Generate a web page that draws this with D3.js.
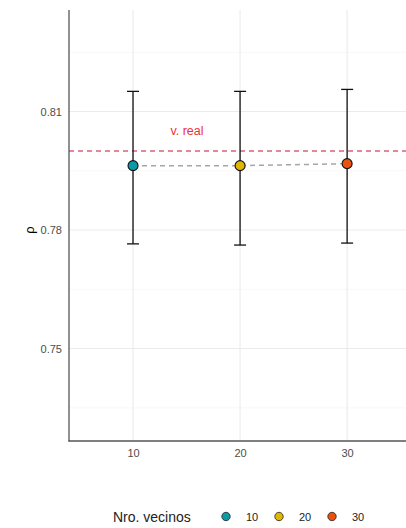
<!DOCTYPE html>
<html>
<head>
<meta charset="utf-8">
<script src="https://cdn.jsdelivr.net/npm/d3@7"></script>
<style>
body { margin:0; background:#fff; }
text { font-family: "Liberation Sans", Arial, sans-serif; }
</style>
</head>
<body>
<div id="chart"></div>
<script>
// data
var vecinos = [10, 20, 30];
var rho = [0.7963, 0.7963, 0.7968];
var rhoLow = [0.7765, 0.7762, 0.7767];
var rhoHigh = [0.8151, 0.8151, 0.8156];
var colores = ["#0c9aa6", "#e2b406", "#e8520f"];
var vReal = 0.80;
var yTicks = [0.75, 0.78, 0.81];
var yMinor = [0.735, 0.765, 0.795, 0.825];
var xTicks = [10, 20, 30];

var W = 406, H = 528;
var svg = d3.select("#chart").append("svg")
	.attr("width", W)
	.attr("height", H);

var x = d3.scaleLinear().domain([4.02, 35.5]).range([69, 406]);
var y = d3.scaleLinear().domain([0.7266, 0.8357]).range([441, 10]);

//grid lines
svg.selectAll("line.minor")
	.data(yMinor)
	.enter()
	.append("line")
	.attr("x1", 69).attr("x2", W)
	.attr("y1", function (d) { return y(d); })
	.attr("y2", function (d) { return y(d); })
	.attr("stroke", "#f2f2f2")
	.attr("stroke-width", 0.6);

svg.selectAll("line.major")
	.data(yTicks)
	.enter()
	.append("line")
	.attr("x1", 69).attr("x2", W)
	.attr("y1", function (d) { return y(d); })
	.attr("y2", function (d) { return y(d); })
	.attr("stroke", "#ebebeb")
	.attr("stroke-width", 1.1);

svg.selectAll("line.vgrid")
	.data(xTicks)
	.enter()
	.append("line")
	.attr("x1", function (d) { return x(d); })
	.attr("x2", function (d) { return x(d); })
	.attr("y1", 10).attr("y2", 441)
	.attr("stroke", "#ebebeb")
	.attr("stroke-width", 1.1);

// axes
var yAxis = d3.axisLeft(y).tickValues(yTicks).tickSize(0).tickPadding(7).tickFormat(d3.format(".2f"));
var gy = svg.append("g").attr("transform", "translate(69,0)").call(yAxis);
gy.select(".domain").remove();
gy.selectAll("text").attr("font-size", "11px").attr("fill", "#4d4d4d").attr("font-family", "Liberation Sans, Arial, sans-serif");

var xAxis = d3.axisBottom(x).tickValues(xTicks).tickSize(0).tickPadding(8);
var gx = svg.append("g").attr("transform", "translate(0,441)").call(xAxis);
gx.select(".domain").remove();
gx.selectAll("text").attr("font-size", "11px").attr("fill", "#4d4d4d").attr("font-family", "Liberation Sans, Arial, sans-serif");

svg.append("line")
	.attr("x1", 69).attr("x2", 69)
	.attr("y1", 10).attr("y2", 441.5)
	.attr("stroke", "#555").attr("stroke-width", 1.3);
svg.append("line")
	.attr("x1", 68.5).attr("x2", W)
	.attr("y1", 441).attr("y2", 441)
	.attr("stroke", "#555").attr("stroke-width", 1.3);

// reference value
svg.append("line")
	.attr("x1", 69).attr("x2", W)
	.attr("y1", y(vReal)).attr("y2", y(vReal))
	.attr("stroke", "#c8103c")
	.attr("stroke-width", 1.1)
	.attr("stroke-dasharray", "5,4");

svg.append("text")
	.text("v. real")
	.attr("x", 187).attr("y", y(vReal) - 16)
	.attr("text-anchor", "middle")
	.attr("font-size", "12.5px")
	.attr("fill", "#f0303a");

// dashed line joining the points
var line = d3.line()
	.x(function (d, i) { return x(vecinos[i]); })
	.y(function (d) { return y(d); });
svg.append("path")
	.datum(rho)
	.attr("d", line)
	.attr("fill", "none")
	.attr("stroke", "#a6a6a6")
	.attr("stroke-width", 1.5)
	.attr("stroke-dasharray", "5,4");

// error bars
var idx = d3.range(vecinos.length);
svg.selectAll("line.eb")
	.data(idx)
	.enter()
	.append("line")
	.attr("x1", function (i) { return x(vecinos[i]); })
	.attr("x2", function (i) { return x(vecinos[i]); })
	.attr("y1", function (i) { return y(rhoLow[i]); })
	.attr("y2", function (i) { return y(rhoHigh[i]); })
	.attr("stroke", "#111").attr("stroke-width", 1.3);

[rhoLow, rhoHigh].forEach(function (arr) {
	svg.selectAll(null)
		.data(idx)
		.enter()
		.append("line")
		.attr("x1", function (i) { return x(vecinos[i]) - 6; })
		.attr("x2", function (i) { return x(vecinos[i]) + 6; })
		.attr("y1", function (i) { return y(arr[i]); })
		.attr("y2", function (i) { return y(arr[i]); })
		.attr("stroke", "#111").attr("stroke-width", 1.3);
});

svg.selectAll("circle.pt")
	.data(idx)
	.enter()
	.append("circle")
	.attr("cx", function (i) { return x(vecinos[i]); })
	.attr("cy", function (i) { return y(rho[i]); })
	.attr("r", 5)
	.attr("fill", function (i) { return colores[i]; })
	.attr("stroke", "#111")
	.attr("stroke-width", 1.1);

// y title
svg.append("text")
	.text("ρ")
	.attr("transform", "translate(34," + y(0.78) + ") rotate(-90)")
	.attr("text-anchor", "middle")
	.attr("font-size", "13px")
	.attr("fill", "#000");

// legend
svg.append("text")
	.text("Nro. vecinos")
	.attr("x", 113).attr("y", 522)
	.attr("font-size", "14px")
	.attr("fill", "#222");

var legX = [226, 279, 332];
svg.selectAll("circle.leg")
	.data(idx)
	.enter()
	.append("circle")
	.attr("cx", function (i) { return legX[i]; })
	.attr("cy", 516.5)
	.attr("r", 4.2)
	.attr("fill", function (i) { return colores[i]; })
	.attr("stroke", "#222")
	.attr("stroke-width", 0.8);

svg.selectAll("text.leg")
	.data(idx)
	.enter()
	.append("text")
	.text(function (i) { return vecinos[i]; })
	.attr("x", function (i) { return legX[i] + 26; })
	.attr("y", 520.5)
	.attr("text-anchor", "middle")
	.attr("font-size", "11px")
	.attr("fill", "#222");
</script>
</body>
</html>
